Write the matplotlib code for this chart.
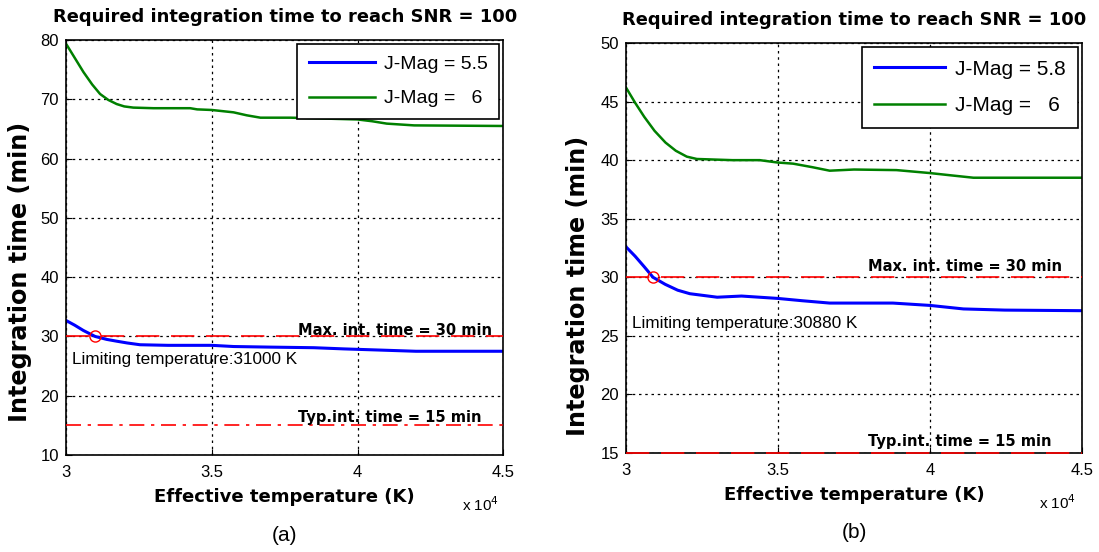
import matplotlib.pyplot as plt
import numpy as np

plt.rcParams['font.family'] = ['Liberation Sans', 'DejaVu Sans']
BOLD = ['DejaVu Sans']

# panel (a)
temp_a_green = [30000, 30300, 30600, 30900, 31170, 31450, 31740, 32000, 32310, 33000, 34260, 34500,
                35000, 35750, 36200, 36670, 37700, 38500, 40000, 40500, 41000, 41940, 45000]
time_a_green = [79.4, 77.0, 74.6, 72.5, 70.9, 69.9, 69.2, 68.8, 68.6, 68.5, 68.5, 68.3,
                68.2, 67.8, 67.3, 66.9, 66.9, 66.8, 66.6, 66.3, 65.9, 65.6, 65.5]
temp_a_blue = [30000, 30300, 30600, 31000, 31400, 31740, 32100, 32540, 33500, 35000, 35750, 37000,
               38500, 39530, 40780, 42000, 45000]
time_a_blue = [32.7, 31.9, 31.0, 30.0, 29.5, 29.2, 28.9, 28.6, 28.5, 28.5, 28.3, 28.2,
               28.1, 27.9, 27.7, 27.5, 27.5]

# panel (b)
temp_b_green = [30000, 30300, 30600, 30940, 31300, 31640, 32000, 32330, 33500, 34400, 34980,
                35500, 36130, 36700, 37500, 38900, 39990, 40700, 41430, 45000]
time_b_green = [46.2, 44.9, 43.7, 42.5, 41.5, 40.8, 40.3, 40.1, 40.0, 40.0, 39.8,
                39.7, 39.4, 39.1, 39.2, 39.15, 38.9, 38.7, 38.5, 38.5]
temp_b_blue = [30000, 30300, 30600, 30890, 31290, 31700, 32100, 33000, 33800, 34980, 35800,
               36700, 37500, 38780, 40000, 41100, 42460, 45000]
time_b_blue = [32.6, 31.8, 30.9, 30.0, 29.4, 28.9, 28.6, 28.3, 28.4, 28.2, 28.0,
               27.8, 27.8, 27.8, 27.6, 27.3, 27.2, 27.15]

panels = [
    dict(label='(a)', tg=temp_a_green, yg=time_a_green, tb=temp_a_blue, yb=time_a_blue,
         mags=['J-Mag = 5.5', 'J-Mag =   6'], limit=31000, ylim=(10, 80), yticks=range(10, 81, 10),
         typ_style=(0, (9, 4, 2, 4)), rect=[0.060, 0.1757, 0.398, 0.7518],
         lim_y=25.3, max_y=30.25, typ_y=15.5, ylab=(-0.078, 0.44), legsize=14),
    dict(label='(b)', tg=temp_b_green, yg=time_b_green, tb=temp_b_blue, yb=time_b_blue,
         mags=['J-Mag = 5.8', 'J-Mag =   6'], limit=30880, ylim=(15, 50), yticks=range(15, 51, 5),
         typ_style=(0, (14, 7)), rect=[0.5696, 0.1793, 0.4149, 0.7428],
         lim_y=25.7, max_y=30.5, typ_y=15.6, ylab=(-0.079, 0.407), legsize=15),
]

fig = plt.figure(figsize=(10.99, 5.52), dpi=100)

for p in panels:
    ax = fig.add_axes(p['rect'])
    ax.plot(p['tb'], p['yb'], color='#0000ff', lw=2.2, label=p['mags'][0])
    ax.plot(p['tg'], p['yg'], color='#008000', lw=1.8, label=p['mags'][1])
    ax.axhline(30, color='red', lw=1.2, linestyle=(0, (14, 7)), zorder=3)
    ax.axhline(15, color='red', lw=1.2, linestyle=p['typ_style'], zorder=3, clip_on=False)
    ax.plot([p['limit']], [30], 'o', mfc='none', mec='red', ms=8, mew=1, zorder=4)

    ax.set_xlim(30000, 45000)
    ax.set_ylim(*p['ylim'])
    ax.set_xticks([30000, 35000, 40000, 45000])
    ax.set_xticklabels(['3', '3.5', '4', '4.5'])
    ax.set_yticks(list(p['yticks']))
    ax.tick_params(direction='in', labelsize=12, length=4)
    ax.tick_params(axis='x', pad=7)
    ax.tick_params(axis='y', pad=5)
    ax.grid(True, color='black', linestyle=(0, (2, 3)), lw=0.9)
    for s in ax.spines.values():
        s.set_linewidth(1.2)

    ax.text(30200, p['lim_y'], 'Limiting temperature:%d K' % p['limit'], fontsize=12.3)
    ax.text(37950, p['max_y'], 'Max. int. time = 30 min', fontsize=10.5, fontweight='bold', family=BOLD)
    ax.text(37950, p['typ_y'], 'Typ.int. time = 15 min', fontsize=10.5, fontweight='bold', family=BOLD)

    ax.set_title('Required integration time to reach SNR = 100', fontsize=12.9,
                 fontweight='bold', family=BOLD, pad=13)
    ax.set_xlabel('Effective temperature (K)', fontsize=13, fontweight='bold', family=BOLD, labelpad=6)
    ax.set_ylabel('Integration time (min)', fontsize=17.2, fontweight='bold', family=BOLD)
    ax.yaxis.set_label_coords(*p['ylab'])
    ax.text(0.906, -0.12, r'x 10$^4$', transform=ax.transAxes, fontsize=11, va='center')
    ax.text(0.5, -0.193, p['label'], transform=ax.transAxes, fontsize=15, ha='center', va='center')

    leg = ax.legend(loc='upper right', fontsize=p['legsize'], fancybox=False, framealpha=1,
                    edgecolor='black', borderaxespad=0.2, borderpad=0.6, handlelength=3.4,
                    handletextpad=0.45, labelspacing=0.85)
    leg.get_frame().set_linewidth(1.2)

fig.savefig('out.png', dpi=100)
